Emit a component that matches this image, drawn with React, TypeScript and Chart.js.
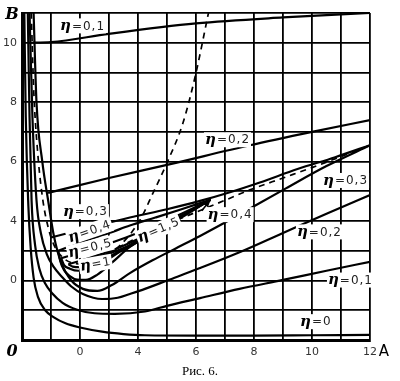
import React, { useEffect, useRef } from "react";
import { Chart, registerables } from "chart.js";
Chart.register(...registerables);

// ---- axis tick labels (as printed in the figure) ----
const xTickValues = [2, 4, 6, 8, 10, 12];
const xTickTexts = ["0", "4", "6", "8", "10", "12"];
const yTickValues = [2, 4, 6, 8, 10];
const yTickTexts = ["0", "4", "6", "8", "10"];

// ---- curves (A, B) ----
const eta0LowX = [0.08, 0.13, 0.22, 0.3, 0.4, 0.55, 0.8, 1.1, 1.5, 2.0, 2.76, 3.5, 4.24, 6, 8, 10, 12];
const eta0LowY = [11, 7.5, 4.5, 3.1, 2.1, 1.45, 1.0, 0.76, 0.56, 0.42, 0.28, 0.2, 0.16, 0.15, 0.15, 0.16, 0.17];

const eta01LowX = [0.2, 0.26, 0.33, 0.45, 0.6, 0.8, 1.03, 1.4, 1.9, 2.5, 3.2, 4.24, 5, 6.14, 7.5, 9, 10.5, 12];
const eta01LowY = [11, 7.5, 4.7, 3.2, 2.4, 1.9, 1.58, 1.25, 1.02, 0.9, 0.88, 0.96, 1.15, 1.41, 1.72, 2.02, 2.33, 2.63];
const eta01UpX = [0.22, 1.0, 3, 6, 9, 12];
const eta01UpY = [10.0, 10.02, 10.3, 10.65, 10.85, 11.0];

const eta02LowX = [0.26, 0.36, 0.5, 0.65, 0.85, 1.1, 1.38, 1.7, 2.1, 2.76, 3.3, 3.72, 4.24, 5, 6.14, 7.5, 9, 10.5, 12];
const eta02LowY = [11, 7.5, 4.7, 3.6, 2.9, 2.45, 2.12, 1.8, 1.55, 1.38, 1.42, 1.55, 1.72, 2.0, 2.42, 2.95, 3.6, 4.25, 4.88];
const eta02UpX = [0.9, 3, 5, 7.86, 10, 12];
const eta02UpY = [4.95, 5.45, 5.89, 6.55, 7.0, 7.4];

const eta03LowX = [0.4, 0.5, 0.7, 0.9, 1.1, 1.35, 1.7, 2.1, 2.6, 3.1, 3.72, 4.5, 5.3, 6.14, 7, 8, 9.1, 10.5, 12.05];
const eta03LowY = [11, 8, 6, 4.7, 3.5, 2.6, 2.0, 1.72, 1.65, 1.85, 2.25, 2.68, 3.08, 3.5, 3.95, 4.5, 5.1, 5.85, 6.57];
const eta03UpX = [1.0, 2.4, 3.72, 5, 6.14, 7.2, 8.2, 9.5, 10.8, 12.05];
const eta03UpY = [3.45, 3.8, 4.12, 4.4, 4.68, 4.98, 5.3, 5.75, 6.15, 6.57];

const eta04UpX = [1.25, 2.2, 3.0, 3.72, 4.6, 5.5, 6.5];
const eta04UpY = [3.0, 3.35, 3.6, 3.85, 4.12, 4.4, 4.72];
const eta04LowX = [1.25, 1.32, 1.45, 1.65, 1.9, 2.2, 2.6, 3.1, 3.72, 4.5, 5.5, 6.5];
const eta04LowY = [3.0, 2.65, 2.35, 2.15, 2.03, 2.02, 2.2, 2.6, 3.13, 3.6, 4.15, 4.72];

const eta05UpX = [1.35, 2.2, 3.0, 3.72, 4.6, 5.5, 6.5];
const eta05UpY = [2.75, 3.0, 3.25, 3.5, 3.85, 4.25, 4.72];
const eta05LowX = [1.35, 1.45, 1.65, 1.95, 2.3, 2.8, 3.4, 4.0, 4.8, 5.6, 6.5];
const eta05LowY = [2.75, 2.52, 2.4, 2.33, 2.38, 2.62, 2.98, 3.3, 3.78, 4.22, 4.72];

const eta1UpX = [1.6, 2.4, 3.2, 4.0, 5.2, 6.5];
const eta1UpY = [2.55, 2.78, 3.05, 3.4, 4.0, 4.72];
const eta1LowX = [1.6, 1.75, 2.0, 2.4, 3.0, 3.7, 4.5, 5.5, 6.5];
const eta1LowY = [2.55, 2.47, 2.45, 2.52, 2.8, 3.18, 3.65, 4.18, 4.72];

const eta15X = [2.3, 3.2, 4.2, 5.3, 6.5];
const eta15Y = [2.72, 2.98, 3.4, 4.0, 4.72];

const dashSteepX = [0.32, 0.4, 0.55, 0.72, 0.9, 1.1, 1.4, 1.8, 2.2, 2.8, 3.4, 4.07, 4.52, 5.0, 5.55, 5.97, 6.43];
const dashSteepY = [11, 8.5, 6.2, 4.7, 3.8, 3.2, 2.78, 2.58, 2.55, 2.78, 3.2, 4.04, 4.95, 5.96, 7.3, 8.86, 11];
const dashShallowX = [3.3, 4.2, 5, 6, 7, 7.86, 9, 10, 10.97, 12.05];
const dashShallowY = [3.1, 3.55, 3.9, 4.3, 4.7, 5.05, 5.45, 5.8, 6.16, 6.57];

// ---- curve labels ----
const labelTexts = ["0,1", "0,2", "0,3", "0,3", "0,4", "0,5", "1", "1,5", "0,4", "0,2", "0,1", "0"];
const labelX = [1.31, 6.31, 10.38, 1.41, 1.6, 1.6, 2.0, 4.0, 6.4, 9.48, 10.55, 9.59];
const labelY = [10.55, 6.72, 5.35, 4.3, 3.4, 2.9, 2.45, 3.4, 4.2, 3.62, 2.0, 0.6];
const labelAngle = [0, 0, 0, 0, -19, -14, -10, -23, 0, 0, 0, 0];

// arrow (from label towards the meeting point of the loops)
const arrowFromX = [6.2];
const arrowFromY = [4.35];
const arrowToX = [6.5];
const arrowToY = [4.72];

const pts = (xs: number[], ys: number[]) => xs.map((x, i) => ({ x, y: ys[i] }));

const solid = (xs: number[], ys: number[]) => ({
  data: pts(xs, ys),
  borderColor: "#000",
  borderWidth: 2.2,
  pointRadius: 0,
  cubicInterpolationMode: "monotone" as const,
  fill: false,
});
const dashed = (xs: number[], ys: number[]) => ({
  ...solid(xs, ys),
  borderWidth: 1.7,
  borderDash: [6, 5],
});

const textPlugin = {
  id: "texts",
  afterDatasetsDraw(chart: any) {
    const ctx = chart.ctx;
    const xs = chart.scales.x;
    const ys = chart.scales.y;
    ctx.save();
    for (let i = 0; i < labelTexts.length; i++) {
      const px = xs.getPixelForValue(labelX[i]);
      const py = ys.getPixelForValue(labelY[i]);
      ctx.save();
      ctx.translate(px, py);
      ctx.rotate((labelAngle[i] * Math.PI) / 180);
      ctx.font = "italic bold 15px 'DejaVu Serif'";
      const etaW = ctx.measureText("η").width;
      ctx.font = "12px 'DejaVu Sans'";
      (ctx as any).letterSpacing = "1px";
      const rest = "=" + labelTexts[i];
      const restW = ctx.measureText(rest).width;
      ctx.fillStyle = "#fff";
      ctx.fillRect(-1, -8, etaW + restW + 3, 15);
      ctx.textBaseline = "middle";
      ctx.fillStyle = "#000";
      ctx.font = "italic bold 15px 'DejaVu Serif'";
      (ctx as any).letterSpacing = "0px";
      ctx.fillText("η", 0, 0);
      ctx.font = "12px 'DejaVu Sans'";
      (ctx as any).letterSpacing = "1px";
      ctx.fillStyle = "#222";
      ctx.fillText(rest, etaW + 1, 0);
      ctx.restore();
    }
    // arrows
    ctx.strokeStyle = "#000";
    ctx.fillStyle = "#000";
    ctx.lineWidth = 1.5;
    for (let i = 0; i < arrowFromX.length; i++) {
      const x0 = xs.getPixelForValue(arrowFromX[i]);
      const y0 = ys.getPixelForValue(arrowFromY[i]);
      const x1 = xs.getPixelForValue(arrowToX[i]);
      const y1 = ys.getPixelForValue(arrowToY[i]);
      const ang = Math.atan2(y1 - y0, x1 - x0);
      ctx.beginPath();
      ctx.moveTo(x0, y0);
      ctx.lineTo(x1, y1);
      ctx.stroke();
      ctx.beginPath();
      ctx.moveTo(x1, y1);
      ctx.lineTo(x1 - 8 * Math.cos(ang - 0.35), y1 - 8 * Math.sin(ang - 0.35));
      ctx.lineTo(x1 - 8 * Math.cos(ang + 0.35), y1 - 8 * Math.sin(ang + 0.35));
      ctx.closePath();
      ctx.fill();
    }
    ctx.restore();
  },
  afterDraw(chart: any) {
    const ctx = chart.ctx;
    const a = chart.chartArea;
    ctx.save();
    ctx.fillStyle = "#000";
    ctx.textBaseline = "middle";
    ctx.font = "italic bold 16px 'DejaVu Serif'";
    ctx.textAlign = "center";
    ctx.fillText("B", a.left - 10, a.top + 2);
    ctx.fillText("0", a.left - 10, a.bottom + 12);
    ctx.font = "15px 'DejaVu Sans'";
    ctx.fillText("A", a.right + 14, a.bottom + 12);
    ctx.font = "13px 'Liberation Serif'";
    ctx.fillText("Рис. 6.", 200, 372);
    ctx.restore();
  },
};

export default function App() {
  const ref = useRef<HTMLCanvasElement>(null);
  useEffect(() => {
    const chart = new Chart(ref.current!, {
      type: "line",
      data: {
        datasets: [
          solid(eta0LowX, eta0LowY),
          solid(eta01LowX, eta01LowY),
          solid(eta01UpX, eta01UpY),
          solid(eta02LowX, eta02LowY),
          solid(eta02UpX, eta02UpY),
          solid(eta03LowX, eta03LowY),
          solid(eta03UpX, eta03UpY),
          solid(eta04UpX, eta04UpY),
          solid(eta04LowX, eta04LowY),
          solid(eta05UpX, eta05UpY),
          solid(eta05LowX, eta05LowY),
          solid(eta1UpX, eta1UpY),
          solid(eta1LowX, eta1LowY),
          solid(eta15X, eta15Y),
          dashed(dashSteepX, dashSteepY),
          dashed(dashShallowX, dashShallowY),
        ] as any,
      },
      options: {
        animation: false,
        responsive: false,
        layout: { padding: { top: 13, right: 30, left: 0, bottom: 0 } },
        plugins: { legend: { display: false }, tooltip: { enabled: false } },
        scales: {
          x: {
            type: "linear",
            min: 0,
            max: 12,
            afterFit: (s: any) => { s.height = 41; },
            afterBuildTicks: (s: any) => {
              s.ticks = [0, 1, 2, 3, 4, 5, 6, 7, 8, 9, 10, 11, 12].map((v) => ({ value: v }));
            },
            ticks: {
              maxRotation: 0,
              autoSkip: false,
              padding: 6,
              color: "#333",
              font: { family: "'DejaVu Sans'", size: 11 },
              callback: (v: any) => {
                const i = xTickValues.indexOf(Number(v));
                return i >= 0 ? xTickTexts[i] : "";
              },
            },
            grid: { color: "#000", lineWidth: 1.8, drawTicks: false },
            border: { color: "#000", width: 3 },
          },
          y: {
            type: "linear",
            min: 0,
            max: 11,
            afterFit: (s: any) => { s.width = 22; },
            afterBuildTicks: (s: any) => {
              s.ticks = [0, 1, 2, 3, 4, 5, 6, 7, 8, 9, 10, 11].map((v) => ({ value: v }));
            },
            ticks: {
              autoSkip: false,
              padding: 5,
              color: "#333",
              font: { family: "'DejaVu Sans'", size: 11 },
              callback: (v: any) => {
                const i = yTickValues.indexOf(Number(v));
                return i >= 0 ? yTickTexts[i] : "";
              },
            },
            grid: { color: "#000", lineWidth: 1.8, drawTicks: false },
            border: { color: "#000", width: 3 },
          },
        },
      },
      plugins: [textPlugin],
    });
    return () => chart.destroy();
  }, []);
  return (
    <div style={{ position: "absolute", left: 0, top: 0, width: 400, height: 381, background: "#fff" }}>
      <canvas ref={ref} width={400} height={381} style={{ width: 400, height: 381 }} />
    </div>
  );
}
